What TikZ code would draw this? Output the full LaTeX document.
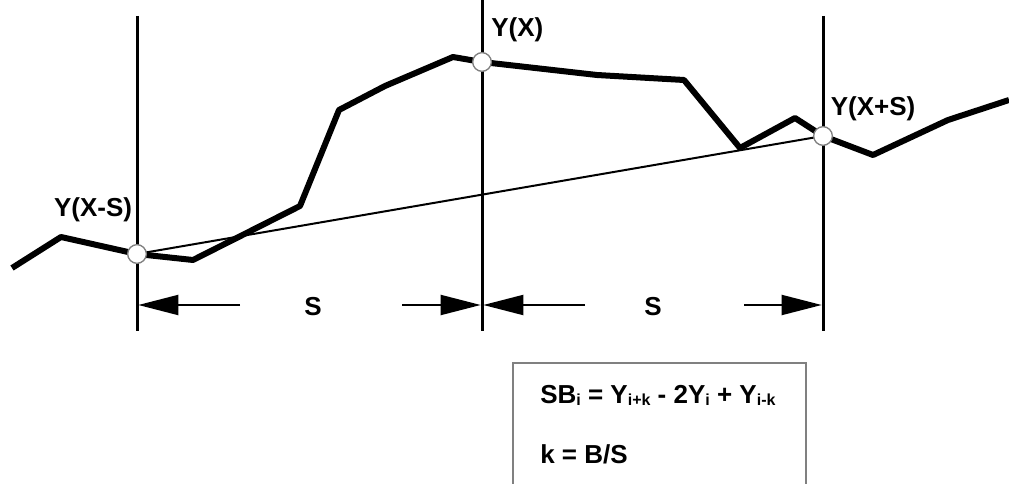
\documentclass[tikz,border=0pt]{standalone}
\usepackage{fontspec}
\setmainfont{Liberation Sans}
\usetikzlibrary{arrows.meta}
\newcommand\lowidx[1]{\raisebox{-2pt}{\fontsize{12}{12}\selectfont #1}}
\tikzset{
  profile/.style={line width=4.5pt, line join=round},
  chord/.style={line width=1.5pt},
  marker/.style={line width=2.25pt},
  sample/.style={circle, draw=gray, fill=white, line width=1pt,
    minimum size=14pt, inner sep=0pt},
  dim/.style={line width=1.5pt, shorten >=1pt,
    -{Triangle[length=30pt,width=15pt]}},
  lbl/.style={font=\fontsize{19.5}{23}\selectfont\bfseries, inner sep=0pt},
}
\begin{document}
\begin{tikzpicture}[x=0.75pt, y=-0.75pt]
  \useasboundingbox (0,0) rectangle (1009,484);
  % sample points Y(X-S), Y(X), Y(X+S)
  \coordinate (pl) at (137,254);
  \coordinate (pm) at (482,62);
  \coordinate (pr) at (823,136);
  % vertical markers
  \draw[marker] (137,16) coordinate (tl) -- (137,331) coordinate (bl);
  \draw[marker] (482,-2) coordinate (tm) -- (482,331) coordinate (bm);
  \draw[marker] (823,16) coordinate (tr) -- (823,331) coordinate (br);
  \draw[chord] (pl) -- (pr);
  \draw[profile] (12,268) -- (61,237) -- (pl) -- (193,260) -- (300,206)
    -- (339,110) -- (385,86) -- (453,57) -- (pm) -- (597,75) -- (684,80)
    -- (740,148) -- (795,118) -- (pr) -- (873,155) -- (948,120) -- (1009,100);
  \node[sample] (yl) at (pl) {};
  \node[sample] (ym) at (pm) {};
  \node[sample] (yr) at (pr) {};
  \node[lbl] (lyl) at (93,210) {Y(X-S)};
  \node[lbl, anchor=west] (lym) at (491,30) {Y(X)};
  \node[lbl] (lyr) at (873,109) {Y(X+S)};
  % spacing S
  \node[lbl] (s1) at (313,307) {S};
  \node[lbl] (s2) at (653,307) {S};
  \coordinate (a1) at (240,305);
  \coordinate (a2) at (402,305);
  \coordinate (a3) at (585,305);
  \coordinate (a4) at (744,305);
  \draw[dim] (a1) -- (137,305);
  \draw[dim] (a2) -- (482,305);
  \draw[dim] (a3) -- (482,305);
  \draw[dim] (a4) -- (823,305);
  % formula box
  \draw[gray, line width=1.2pt] (513,490) -- (513,363) -- (806,363) -- (806,490);
  \node[lbl, anchor=base west] (f1) at (540,403)
    {SB\lowidx{i} = Y\lowidx{i+k} - 2Y\lowidx{i} + Y\lowidx{i-k}};
  \node[lbl, anchor=base west] (f2) at (540,463) {k = B/S};
\end{tikzpicture}
\end{document}
